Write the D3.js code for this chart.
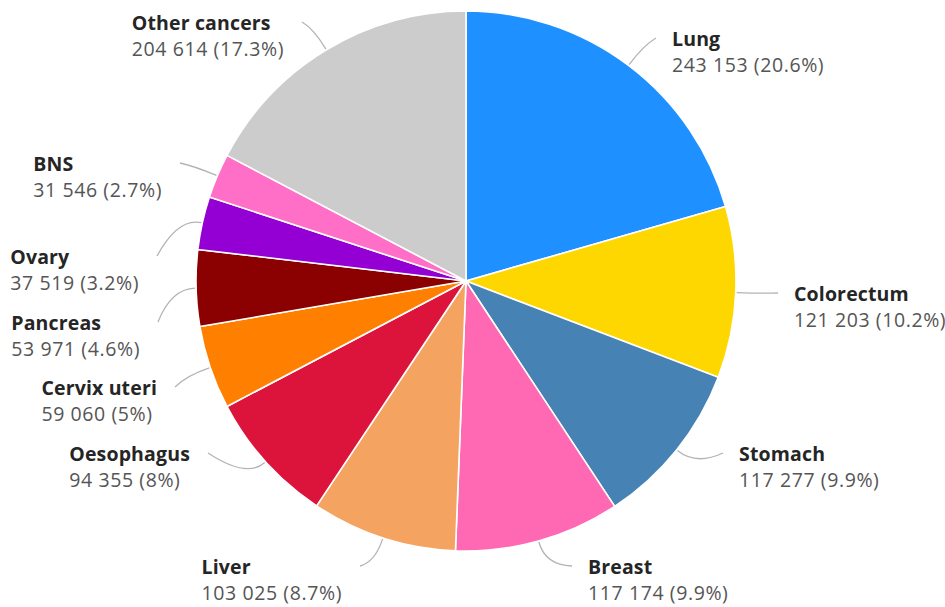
<!DOCTYPE html>
<html>
<head>
<meta charset="utf-8">
<script src="https://cdn.jsdelivr.net/npm/d3@7"></script>
<style>
  html, body { margin: 0; padding: 0; background: #fff; }
  svg { display: block; }
  .label { font-family: "Open Sans", "Noto Sans", sans-serif; font-size: 19.5px; }
  .name { font-weight: 700; letter-spacing: 0.15px; fill: #252525; }
  .value { font-weight: 400; letter-spacing: 0.6px; fill: #555; }
</style>
</head>
<body>
<svg id="chart" width="945" height="607"></svg>
<script>
// New cancer cases by site, clockwise from the top
const categories = ["Lung", "Colorectum", "Stomach", "Breast", "Liver", "Oesophagus",
                    "Cervix uteri", "Pancreas", "Ovary", "BNS", "Other cancers"];
const cases = [243153, 121203, 117277, 117174, 103025, 94355, 59060, 53971, 37519, 31546, 204614];
const sliceColors = ["#1E90FF", "#FFD700", "#4682B4", "#FF69B4", "#F4A460", "#DC143C",
                     "#FF7F00", "#8B0000", "#9400D3", "#FF6EC7", "#CCCCCC"];

// Layout
const width = 945, height = 607;
const cx = 466, cy = 281, radius = 270;

// Where each leader line ends (offset from the pie centre)
const labelEnds = {
  "Lung":          [190, -243],
  "Colorectum":    [312, 12],
  "Stomach":       [257, 172],
  "Breast":        [106, 285],
  "Liver":         [-106, 285],
  "Oesophagus":    [-258, 172],
  "Cervix uteri":  [-291, 106],
  "Pancreas":      [-308, 41],
  "Ovary":         [-309, -25],
  "BNS":           [-286, -118],
  "Other cancers": [-164, -259]
};

const total = d3.sum(cases);
const fmt = d3.formatLocale({ decimal: ".", thousands: " ", grouping: [3], currency: ["", ""] }).format(",");
const pct = v => (Math.round(v / total * 1000) / 10) + "%";

const data = categories.map((c, i) => ({ name: c, value: cases[i], color: sliceColors[i] }));

const pie = d3.pie().sort(null).value(d => d.value);
const arc = d3.arc().innerRadius(0).outerRadius(radius);
const arcs = pie(data);

const svg = d3.select("#chart");
const g = svg.append("g").attr("transform", `translate(${cx},${cy})`);

// Slices
g.selectAll("path.slice")
  .data(arcs)
  .join("path")
  .attr("class", "slice")
  .attr("d", arc)
  .attr("fill", d => d.data.color)
  .attr("stroke", "#fff")
  .attr("stroke-width", 1.6)
  .attr("stroke-linejoin", "round");

// Leader lines and two-line labels (name, then count and share)
const polar = (a, r) => [Math.sin(a) * r, -Math.cos(a) * r];

arcs.forEach(d => {
  const mid = (d.startAngle + d.endAngle) / 2;
  const p0 = polar(mid, radius + 1);
  const p1 = polar(mid, radius + 25);
  const p2 = labelEnds[d.data.name];
  const right = p2[0] > 0;

  g.append("path")
    .attr("d", `M${p0[0]},${p0[1]} Q${p1[0]},${p1[1]} ${p2[0]},${p2[1]}`)
    .attr("fill", "none")
    .attr("stroke", "#b4b4b4")
    .attr("stroke-width", 1.3);

  const nameT = g.append("text").attr("class", "label name").attr("y", p2[1] + 8).text(d.data.name);
  const valT = g.append("text").attr("class", "label value").attr("y", p2[1] + 34)
    .text(`${fmt(d.data.value)} (${pct(d.data.value)})`);

  let x;
  if (right) {
    x = p2[0] + 16;
  } else {
    const w = Math.max(nameT.node().getComputedTextLength(), valT.node().getComputedTextLength());
    x = p2[0] - 18 - w;
  }
  nameT.attr("x", x);
  valT.attr("x", x);
});
</script>
</body>
</html>
